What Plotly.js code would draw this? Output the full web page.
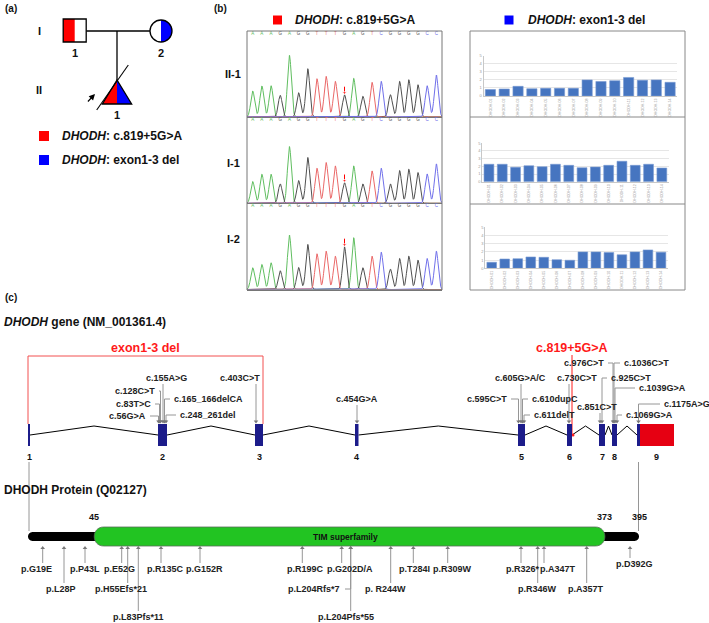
<!DOCTYPE html>
<html><head><meta charset="utf-8">
<script src="https://cdn.plot.ly/plotly-3.0.1.min.js"></script>
<style>html,body{margin:0;padding:0;background:#fff}#chart{width:709px;height:623px}</style>
</head><body><div id="chart"></div>
<script>
const FONT = 'Liberation Sans, Arial, sans-serif';

// ---------------- (a) pedigree ----------------
const pedGeneration = ['I', 'II'];
const pedGenerationY = [31, 90];
const pedNumber = ['1', '2', '1'];
const pedShape = ['square', 'circle', 'triangle'];
const pedCenterX = [74.7, 161, 117];
const pedCenterY = [30.5, 31, 92];
const pedSize = [23, 22, 24];
const pedLeftHalf = [true, false, true];   // c.819+5G>A (paternal, red)
const pedRightHalf = [false, true, true];  // exon1-3 del (maternal, blue)
const variantNames = ['c.819+5G>A', 'exon1-3 del'];
const variantColors = ['#ff0000', '#0000ff'];

// ---------------- (b) Sanger traces ----------------
const sangerSamples = ['II-1', 'I-1', 'I-2'];
const sangerBases = ['A','A','A','G','A','G','G','T','T','T','G','A','G','T','C','G','G','G','G','C','C'];
const sangerII1 = [26, 31, 31.3, 21.7, 61.7, 24.3, 48.3, 38.3, 40.7, 35.7, 22.3, 38.7, 20.7, 34.7, 35.7, 22.3, 35.7, 37.3, 32.3, 31.3, 42];
const sangerI1  = [21.7, 29, 29, 19.3, 56.6, 22.7, 45.7, 35, 40.7, 37.3, 20.7, 37.3, 19.3, 32.3, 35, 19.3, 32.7, 34, 30.7, 29.3, 39.3];
const sangerI2  = [21.7, 25, 26.7, 18.7, 54.3, 22, 45, 35.7, 38.3, 33.3, 42.7, 51.7, 21.7, 33.3, 37.3, 20.3, 31, 33.3, 29.3, 31, 38.3];
const sangerVariantIndex = 11;

// ---------------- (b) copy-number bars ----------------
const cnvProbes = ['DHODH-01','DHODH-02','DHODH-03','DHODH-04','DHODH-05','DHODH-06','DHODH-07','DHODH-08','DHODH-09','DHODH-10','DHODH-11','DHODH-12','DHODH-13','DHODH-14'];
const cnvII1 = [0.8, 0.87, 1.2, 0.9, 0.95, 0.95, 0.95, 2.0, 1.8, 1.9, 2.3, 1.95, 2.0, 1.7];
const cnvI1  = [2.27, 2.27, 1.88, 2.08, 1.95, 2.27, 2.13, 1.82, 1.91, 2.13, 2.66, 2.13, 2.27, 1.78];
const cnvI2  = [0.73, 1.13, 1.17, 1.38, 1.34, 1.05, 0.98, 2.0, 2.0, 1.93, 1.65, 2.0, 2.24, 1.97];
const cnvTicks = [0, 1, 2, 3, 4, 5];

// ---------------- (c) gene structure (schematic positions) ----------------
const exonNumbers = ['1','2','3','4','5','6','7','8','9'];
const exonX0 = [28, 158, 255, 355, 518, 567, 599, 612, 637];
const exonX1 = [30, 167, 263, 358.5, 525, 572, 605, 617, 640];
const utrX1 = 674;
const geneVariantLabels = ['c.56G>A','c.83T>C','c.128C>T','c.155A>G','c.165_166delCA','c.248_261del','c.403C>T','c.454G>A','c.595C>T','c.605G>A/C','c.610dupC','c.611delT','c.730C>T','c.851C>T','c.925C>T','c.976C>T','c.1036C>T','c.1039G>A','c.1069G>A','c.1175A>G'];
const geneVariantSite = [158.5, 159.5, 160.5, 163, 164.5, 166, 256, 357, 518.5, 521, 522.5, 524, 569, 600, 602, 613, 614, 615, 617, 638.5];
const geneLabelX = [148, 153, 157, 166, 172, 178, 240, 357, 509, 520, 530, 532, 577, 597, 609, 606, 622, 637, 624, 662];
const geneLabelY = [416, 404, 391, 378, 399, 415, 378, 399, 399, 378, 399, 415, 378, 407, 378, 363, 363, 388, 415, 404];
const geneLabelSide = ['left','left','left','top','right','right','top','top','left','top','right','right','top','top','right','left','right','right','right','right'];
const studyDeletion = {label: 'exon1-3 del', fromExon: 1, toExon: 3};
const studySplice = {label: 'c.819+5G>A', x: 572};

// ---------------- (c) protein ----------------
const proteinLength = 395;
const domainStart = 45, domainEnd = 373;
const domainName = 'TIM superfamily';
const proteinVariantLabels = ['p.G19E','p.L28P','p.P43L','p.E52G','p.H55Efs*21','p.L83Pfs*11','p.R135C','p.G152R','p.R199C','p.G202D/A','p.L204Rfs*7','p.L204Pfs*55','p. R244W','p.T284I','p.R309W','p.R326*','p.R346W','p.A347T','p.A357T','p.D392G'];
const proteinVariantSite = [42.7, 64, 85, 121.7, 127.7, 138.3, 161, 200, 302.3, 341.7, 350.7, 350.7, 390.7, 413.3, 447.7, 521, 537.7, 544, 586.7, 630];
const proteinLabelX = [36, 61, 85, 119.5, 121, 138, 165, 204, 305.7, 349.7, 342, 346, 385.5, 414, 452.5, 522.5, 537.5, 557.5, 585.5, 634];
const proteinLabelY = [569, 589, 569, 569, 589, 617, 569, 569, 569, 569, 589, 617, 589, 569, 569, 569, 589, 569, 589, 564];
const proteinLabelSide = ['c','c','c','c','c','c','c','c','c','c','left','c','c','c','c','c','c','c','c','c'];

// ---------------- build ----------------
const W = 709, H = 623;
const fx = a => a / W;
const fy = a => (H - a) / H;
const traces = [], shapes = [], ann = [];
const GRAY = 'rgb(150,150,150)';
const NAVY = 'rgb(28,28,138)';

function T(text, x, y, size, o = {}) {
  ann.push({text, x, y, xref: 'x', yref: 'y', showarrow: false,
    xanchor: o.xa || 'center', yanchor: 'middle',
    font: {family: FONT, size, color: o.color || '#111'}});
}
function segs(list, color, width) {
  const xs = [], ys = [];
  list.forEach(pts => { pts.forEach(p => { xs.push(p[0]); ys.push(p[1]); }); xs.push(null); ys.push(null); });
  traces.push({type: 'scatter', mode: 'lines', x: xs, y: ys, xaxis: 'x', yaxis: 'y',
    line: {color, width}, hoverinfo: 'skip', connectgaps: false});
}

// panel letters
T('<b>(a)</b>', 3, 8, 10, {xa: 'left'});
T('<b>(b)</b>', 212, 8, 10, {xa: 'left'});
T('<b>(c)</b>', 3, 297, 10, {xa: 'left'});

// ---- pedigree ----
pedGeneration.forEach((g, i) => T('<b>' + g + '</b>', 39, pedGenerationY[i], 11));
segs([[[pedCenterX[0] + pedSize[0] / 2, 31], [pedCenterX[1] - pedSize[1] / 2, 31]],
      [[pedCenterX[2], 31], [pedCenterX[2], pedCenterY[2] - pedSize[2] / 2]]], '#000', 1.3);
pedShape.forEach((sh, i) => {
  const cx = pedCenterX[i], cy = pedCenterY[i], s = pedSize[i], r = s / 2;
  const x0 = cx - r, x1 = cx + r, y0 = cy - r, y1 = cy + r;
  const L = pedLeftHalf[i] ? variantColors[0] : null;
  const R = pedRightHalf[i] ? variantColors[1] : null;
  if (sh === 'square') {
    shapes.push({type: 'rect', xref: 'x', yref: 'y', x0, x1, y0, y1, fillcolor: '#fff', line: {width: 0}});
    if (L) shapes.push({type: 'rect', xref: 'x', yref: 'y', x0, x1: cx, y0, y1, fillcolor: L, line: {width: 0}});
    if (R) shapes.push({type: 'rect', xref: 'x', yref: 'y', x0: cx, x1, y0, y1, fillcolor: R, line: {width: 0}});
    shapes.push({type: 'rect', xref: 'x', yref: 'y', x0, x1, y0, y1, line: {color: '#000', width: 1.3}});
  } else if (sh === 'circle') {
    const k = 4 / 3 * r;
    shapes.push({type: 'circle', xref: 'x', yref: 'y', x0, x1, y0, y1, fillcolor: '#fff', line: {width: 0}});
    if (R) shapes.push({type: 'path', xref: 'x', yref: 'y', path: `M${cx},${y0} C${cx + k},${y0} ${cx + k},${y1} ${cx},${y1} Z`, fillcolor: R, line: {width: 0}});
    if (L) shapes.push({type: 'path', xref: 'x', yref: 'y', path: `M${cx},${y0} C${cx - k},${y0} ${cx - k},${y1} ${cx},${y1} Z`, fillcolor: L, line: {width: 0}});
    shapes.push({type: 'circle', xref: 'x', yref: 'y', x0, x1, y0, y1, line: {color: '#000', width: 1.3}});
  } else {
    const hw = s * 0.61;
    if (L) shapes.push({type: 'path', xref: 'x', yref: 'y', path: `M${cx},${y0} L${cx - hw},${y1} L${cx},${y1} Z`, fillcolor: L, line: {width: 0}});
    if (R) shapes.push({type: 'path', xref: 'x', yref: 'y', path: `M${cx},${y0} L${cx},${y1} L${cx + hw},${y1} Z`, fillcolor: R, line: {width: 0}});
    shapes.push({type: 'path', xref: 'x', yref: 'y', path: `M${cx},${y0} L${cx - hw},${y1} L${cx + hw},${y1} Z`, line: {color: '#000', width: 1.3}});
    // deceased line
    shapes.push({type: 'line', xref: 'x', yref: 'y', x0: cx - 20.3, y0: cy + 18, x1: cx + 11.3, y1: cy - 27, line: {color: '#000', width: 1.1}});
    // proband arrow
    ann.push({x: cx - 22, y: cy + 2, ax: cx - 30.5, ay: cy + 11, xref: 'x', yref: 'y', axref: 'x', ayref: 'y',
      showarrow: true, arrowhead: 2, arrowsize: 1, arrowwidth: 1.2, arrowcolor: '#000', text: ''});
  }
  T('<b>' + pedNumber[i] + '</b>', cx, cy + r + 11, 11);
});
// legend
traces.push({type: 'scatter', mode: 'markers', x: [44, 44], y: [136, 160], xaxis: 'x', yaxis: 'y',
  marker: {symbol: 'square', size: 10, color: variantColors}, hoverinfo: 'skip'});
variantNames.forEach((v, i) => T('<b><i>DHODH</i>: ' + v + '</b>', 60, 136 + 24 * i, 12, {xa: 'left'}));

// ---- (b) headers and row labels ----
traces.push({type: 'scatter', mode: 'markers', x: [277.5, 509], y: [20, 20], xaxis: 'x', yaxis: 'y',
  marker: {symbol: 'square', size: 9, color: variantColors}, hoverinfo: 'skip'});
T('<b><i>DHODH</i>: ' + variantNames[0] + '</b>', 293, 20, 12, {xa: 'left'});
T('<b><i>DHODH</i>: ' + variantNames[1] + '</b>', 526, 20, 12, {xa: 'left'});
const rowLabelY = [74, 163, 239];
sangerSamples.forEach((s, i) => T('<b>' + s + '</b>', 233, rowLabelY[i], 11));

// ---- Sanger traces ----
const baseColor = {A: 'rgb(96,190,96)', G: 'rgb(80,80,80)', T: 'rgb(234,104,104)', C: 'rgb(112,112,234)'};
const sangerData = [sangerII1, sangerI1, sangerI2];
const sangerPx = [[31, 117], [117, 203.3], [203.3, 289.5]];
const layoutAxes = {};
sangerData.forEach((heights, p) => {
  const n = p + 2, xa = 'x' + n, ya = 'y' + n;
  ['A', 'G', 'T', 'C'].forEach(b => {
    const xs = [], ys = [];
    for (let k = 0; k <= 1062; k++) {
      const x = 0.38 + k * 0.02; let y = 0;
      heights.forEach((h, i) => { if (sangerBases[i] === b) { const d = x - (i + 1); y += h * Math.exp(-d * d / (2 * 0.045)); } });
      xs.push(x); ys.push(y);
    }
    traces.push({type: 'scatter', mode: 'lines', x: xs, y: ys, xaxis: xa, yaxis: ya,
      line: {color: baseColor[b], width: 1}, hoverinfo: 'skip'});
  });
  traces.push({type: 'scatter', mode: 'text', x: sangerBases.map((_, i) => i + 1), y: sangerBases.map(() => 83.5),
    text: sangerBases, textfont: {family: FONT, size: 4.5, color: sangerBases.map(b => baseColor[b])},
    xaxis: xa, yaxis: ya, hoverinfo: 'skip'});
  const hv = heights[sangerVariantIndex - 1];
  traces.push({type: 'scatter', mode: 'lines+markers', x: [sangerVariantIndex, sangerVariantIndex], y: [hv + 8, hv + 2],
    xaxis: xa, yaxis: ya, line: {color: '#ff0000', width: 1},
    marker: {symbol: 'triangle-down', size: [0, 4], color: '#ff0000'}, hoverinfo: 'skip'});
  layoutAxes['xaxis' + n] = {domain: [fx(247), fx(442)], range: [0.38, 21.62], anchor: ya,
    showline: true, linecolor: '#777', linewidth: 1, showticklabels: false, ticks: '', showgrid: false, zeroline: false, fixedrange: true};
  layoutAxes['yaxis' + n] = {domain: [fy(sangerPx[p][1]), fy(sangerPx[p][0])], range: [0, 86], anchor: xa,
    visible: false, fixedrange: true};
});
shapes.push({type: 'rect', xref: 'x', yref: 'y', x0: 247, x1: 442, y0: 31, y1: 290, line: {color: '#777', width: 1}});

// ---- CNV bars ----
const cnvData = [cnvII1, cnvI1, cnvI2];
const cnvXpx = [[483.5, 677], [482.3, 668.5], [485.2, 667.5]];
const cnvYpx = [[55.7, 96], [143.3, 181.7], [227.3, 268.3]];
cnvData.forEach((vals, p) => {
  const n = p + 5, xa = 'x' + n, ya = 'y' + n;
  traces.push({type: 'bar', x: cnvProbes, y: vals, xaxis: xa, yaxis: ya, width: 0.74,
    marker: {color: 'rgb(70,117,192)', line: {color: 'rgb(120,155,210)', width: 0.6}}, hoverinfo: 'skip'});
  layoutAxes['xaxis' + n] = {domain: [fx(cnvXpx[p][0]), fx(cnvXpx[p][1])], range: [-0.5, 13.5], anchor: ya, type: 'category',
    showline: true, linecolor: '#c8c8c8', linewidth: 1, ticks: '', tickangle: -90,
    tickfont: {family: FONT, size: 3.6, color: '#999'}, showgrid: false, zeroline: false, fixedrange: true};
  layoutAxes['yaxis' + n] = {domain: [fy(cnvYpx[p][1]), fy(cnvYpx[p][0])], range: [0, 5], anchor: xa,
    tickvals: cnvTicks, ticks: '', tickfont: {family: FONT, size: 4, color: '#999'},
    showgrid: true, gridcolor: '#e6e6e6', gridwidth: 1, showline: true, linecolor: '#c8c8c8', zeroline: false, fixedrange: true};
});
shapes.push({type: 'rect', xref: 'x', yref: 'y', x0: 470, x1: 685, y0: 31, y1: 290, line: {color: '#888', width: 1}});
segs([[[470, 117], [685, 117]], [[470, 204], [685, 204]]], '#888', 1);

// ---- (c) gene ----
T('<b><i>DHODH</i> gene (NM_001361.4)</b>', 2, 322, 12, {xa: 'left'});
const exTop = 424, exBot = 446, exMid = 435, peakY = 426;
const intronPts = [];
for (let i = 0; i < exonX0.length - 1; i++) {
  const a = exonX1[i], b = exonX0[i + 1];
  intronPts.push([[a, exMid], [(a + b) / 2, peakY], [b, exMid]]);
}
segs(intronPts, '#000', 1);
exonX0.forEach((x0, i) => {
  shapes.push({type: 'rect', xref: 'x', yref: 'y', x0, x1: exonX1[i], y0: exTop, y1: exBot, fillcolor: NAVY, line: {width: 0}});
  T('<b>' + exonNumbers[i] + '</b>', (x0 + exonX1[i]) / 2 + (i === 8 ? 18 : 0), 457, 9);
});
shapes.push({type: 'rect', xref: 'x', yref: 'y', x0: exonX1[8], x1: utrX1, y0: exTop, y1: exBot, fillcolor: 'rgb(230,0,18)', line: {width: 0}});

// leader lines for reported variants
const leaders = [];
geneVariantLabels.forEach((lab, i) => {
  const s = geneVariantSite[i], lx = geneLabelX[i], ly = geneLabelY[i], side = geneLabelSide[i];
  if (side === 'top') {
    leaders.push([[s, 421], [s, ly + 6]]);
    T('<b>' + lab + '</b>', lx, ly, 9, {color: '#222'});
  } else if (side === 'left') {
    leaders.push([[s, 421], [s, ly], [lx + 2, ly]]);
    T('<b>' + lab + '</b>', lx, ly, 9, {xa: 'right', color: '#222'});
  } else {
    leaders.push([[s, 421], [s, ly], [lx - 2, ly]]);
    T('<b>' + lab + '</b>', lx, ly, 9, {xa: 'left', color: '#222'});
  }
});
// links gene -> protein ends
leaders.push([[(exonX0[0] + exonX1[0]) / 2, 462], [(exonX0[0] + exonX1[0]) / 2, 531]]);
leaders.push([[exonX0[8] + 1.5, 462], [exonX0[8] + 1.5, 531]]);
segs(leaders, GRAY, 1);
traces.push({type: 'scatter', mode: 'markers', x: geneVariantSite, y: geneVariantSite.map(() => 421.5), xaxis: 'x', yaxis: 'y',
  marker: {symbol: 'triangle-down', size: 4, color: 'rgb(120,120,120)'}, hoverinfo: 'skip'});

// study variants (red)
const delX0 = exonX0[studyDeletion.fromExon - 1], delX1 = exonX1[studyDeletion.toExon - 1];
segs([[[delX0, exTop], [delX0, 356], [delX1, 356], [delX1, exTop]]], 'rgb(242,80,80)', 1);
T('<b>' + studyDeletion.label + '</b>', (delX0 + delX1) / 2, 348, 12.5, {color: '#ff1a1a'});
segs([[[studySplice.x, 355], [studySplice.x, exMid]]], '#ff1a1a', 1);
traces.push({type: 'scatter', mode: 'markers', x: [studySplice.x + 1], y: [exMid], xaxis: 'x', yaxis: 'y',
  marker: {size: 3, color: '#ff1a1a'}, hoverinfo: 'skip'});
T('<b>' + studySplice.label + '</b>', studySplice.x, 348, 12.5, {color: '#ff1a1a'});

// ---- (c) protein ----
T('<b>DHODH Protein (Q02127)</b>', 2, 490, 12, {xa: 'left'});
const protX0 = 28, protX1 = 639;
const aaX = aa => protX0 + (aa - 1) * (protX1 - protX0) / (proteinLength - 1);
const bT = 532, bB = 541, br = 4.5, bk = 4 / 3 * br;
const dL = aaX(domainStart) - 2, dR = aaX(domainEnd), dT = 527, dB = 546, dr = 9.5, dk = 4 / 3 * dr;
shapes.push({type: 'path', xref: 'x', yref: 'y', fillcolor: '#000', line: {width: 0},
  path: `M${protX0 + br},${bT} L${dL + 4},${bT} L${dL + 4},${bB} L${protX0 + br},${bB} C${protX0 + br - bk},${bB} ${protX0 + br - bk},${bT} ${protX0 + br},${bT} Z`});
shapes.push({type: 'path', xref: 'x', yref: 'y', fillcolor: '#000', line: {width: 0},
  path: `M${dR - 4},${bT} L${protX1 - br},${bT} C${protX1 - br + bk},${bT} ${protX1 - br + bk},${bB} ${protX1 - br},${bB} L${dR - 4},${bB} Z`});
shapes.push({type: 'path', xref: 'x', yref: 'y', fillcolor: 'rgb(34,196,34)', line: {color: 'rgb(90,110,90)', width: 0.8},
  path: `M${dL + dr},${dT} L${dR - dr},${dT} C${dR - dr + dk},${dT} ${dR - dr + dk},${dB} ${dR - dr},${dB} L${dL + dr},${dB} C${dL + dr - dk},${dB} ${dL + dr - dk},${dT} ${dL + dr},${dT} Z`});
T('<b>' + domainName + '</b>', 345, 536.5, 8.5, {color: '#111'});
T('<b>' + domainStart + '</b>', dL, 517, 9);
T('<b>' + domainEnd + '</b>', dR, 517, 9);
T('<b>' + proteinLength + '</b>', protX1, 517, 9);

const pLeaders = [];
proteinVariantLabels.forEach((lab, i) => {
  const s = proteinVariantSite[i], lx = proteinLabelX[i], ly = proteinLabelY[i];
  if (proteinLabelSide[i] === 'left') {
    pLeaders.push([[s, 548], [s, ly], [lx + 3, ly]]);
    T('<b>' + lab + '</b>', lx, ly, 9, {xa: 'right', color: '#222'});
  } else {
    pLeaders.push([[s, 548], [s, ly - 6]]);
    T('<b>' + lab + '</b>', lx, ly, 9, {color: '#222'});
  }
});
segs(pLeaders, GRAY, 1);
traces.push({type: 'scatter', mode: 'markers', x: proteinVariantSite, y: proteinVariantSite.map(() => 548), xaxis: 'x', yaxis: 'y',
  marker: {symbol: 'triangle-up', size: 4, color: 'rgb(120,120,120)'}, hoverinfo: 'skip'});

const layout = Object.assign({
  width: W, height: H, margin: {l: 0, r: 0, t: 0, b: 0},
  paper_bgcolor: '#fff', plot_bgcolor: 'rgba(0,0,0,0)', showlegend: false,
  xaxis: {domain: [0, 1], range: [0, W], visible: false, fixedrange: true},
  yaxis: {domain: [0, 1], range: [H, 0], visible: false, fixedrange: true},
  shapes, annotations: ann, bargap: 0.26
}, layoutAxes);

Plotly.newPlot('chart', traces, layout, {staticPlot: true, displayModeBar: false});
</script></body></html>
